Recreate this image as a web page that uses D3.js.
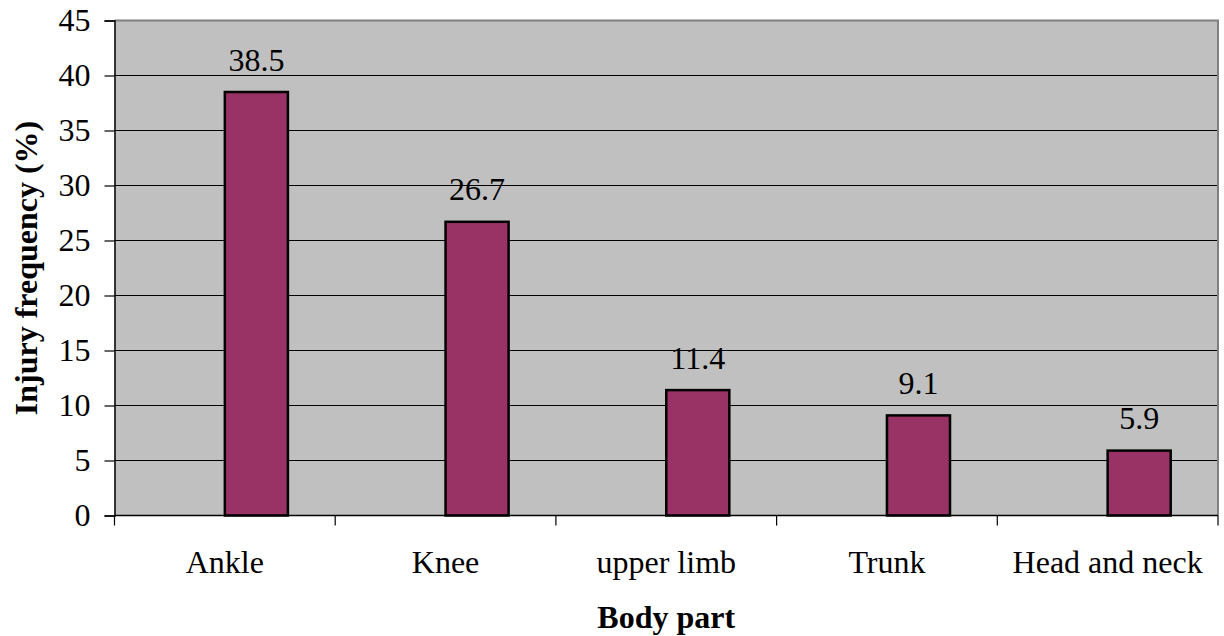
<!DOCTYPE html>
<html>
<head>
<meta charset="utf-8">
<script src="https://cdn.jsdelivr.net/npm/d3@7/dist/d3.min.js"></script>
<style>
  html, body { margin: 0; padding: 0; background: #fff; }
  svg { display: block; }
  svg text { font-family: "Liberation Serif", "Times New Roman", serif; fill: #000; }
</style>
</head>
<body>
<svg id="chart" width="1224" height="636"></svg>
<script>
const categories = ["Ankle", "Knee", "upper limb", "Trunk", "Head and neck"];
const values = [38.5, 26.7, 11.4, 9.1, 5.9];
const yTicks = [0, 5, 10, 15, 20, 25, 30, 35, 40, 45];
const yTitle = "Injury frequency (%)";
const xTitle = "Body part";

(function () {
const svg = d3.select("#chart");
const pL = 114.5, pR = 1218, pT = 20.5, pB = 515.5;
const FONT = '"Liberation Serif", "Times New Roman", serif';

const x = d3.scaleBand().domain(categories).range([pL, pR]).padding(0);
const y = d3.scaleLinear().domain([0, 45]).range([pB, pT]);

svg.append("rect")
  .attr("x", pL).attr("y", pT)
  .attr("width", pR - pL).attr("height", pB - pT)
  .attr("fill", "#C0C0C0");

svg.append("g").selectAll("line")
  .data(yTicks.filter(d => d > 0 && d < 45))
  .join("line")
  .attr("x1", pL).attr("x2", pR)
  .attr("y1", d => y(d)).attr("y2", d => y(d))
  .attr("stroke", "#000").attr("stroke-width", 1.2);

svg.append("path")
  .attr("d", `M${pL},${pT}H${pR}V${pB}`)
  .attr("fill", "none").attr("stroke", "#808080").attr("stroke-width", 2);

const bw = x.bandwidth() / 3.5;
const rows = categories.map((c, i) => ({c, v: values[i]}));
svg.append("g").selectAll("rect")
  .data(rows)
  .join("rect")
  .attr("x", d => x(d.c) + x.bandwidth() / 2)
  .attr("y", d => y(d.v))
  .attr("width", bw)
  .attr("height", d => y(0) - y(d.v))
  .attr("fill", "#993366")
  .attr("stroke", "#000").attr("stroke-width", 2.5);

svg.append("g").attr("font-family", FONT).selectAll("text")
  .data(rows)
  .join("text")
  .attr("x", d => x(d.c) + x.bandwidth() / 2 + bw / 2)
  .attr("y", d => y(d.v) - 21.5)
  .attr("text-anchor", "middle")
  .style("font-size", "32px")
  .text(d => d.v);

const yAxis = d3.axisLeft(y).tickValues(yTicks).tickSize(10).tickPadding(14).tickFormat(d3.format("d"));
const gy = svg.append("g").attr("transform", `translate(${pL},0)`).call(yAxis);
gy.attr("font-family", FONT).attr("font-size", 32);
gy.select(".domain").attr("stroke", "#000").attr("stroke-width", 1.5);
gy.selectAll(".tick line").attr("stroke", "#000").attr("stroke-width", 1.2);
gy.selectAll(".tick text").style("font-size", "32px").attr("fill", "#000");

svg.append("line")
  .attr("x1", pL).attr("x2", pR)
  .attr("y1", pB).attr("y2", pB)
  .attr("stroke", "#000").attr("stroke-width", 1.5);

const edges = categories.map(c => x(c)).concat([x(categories[categories.length - 1]) + x.bandwidth()]);
svg.append("g").selectAll("line")
  .data(edges)
  .join("line")
  .attr("x1", d => d).attr("x2", d => d)
  .attr("y1", pB).attr("y2", pB + 10)
  .attr("stroke", "#000").attr("stroke-width", 1.2);

svg.append("g").selectAll("text")
  .data(categories)
  .join("text")
  .attr("x", d => x(d) + x.bandwidth() / 2)
  .attr("y", 572.5)
  .attr("text-anchor", "middle")
  .style("font-size", "32px")
  .text(d => d);

svg.append("text")
  .attr("x", (pL + pR) / 2).attr("y", 628)
  .attr("text-anchor", "middle")
  .style("font-size", "32px").style("font-weight", "bold")
  .text(xTitle);

svg.append("text")
  .attr("transform", `translate(37,${(pT + pB) / 2}) rotate(-90)`)
  .attr("text-anchor", "middle")
  .style("font-size", "32px").style("font-weight", "bold")
  .text(yTitle);
})();
</script>
</body>
</html>
